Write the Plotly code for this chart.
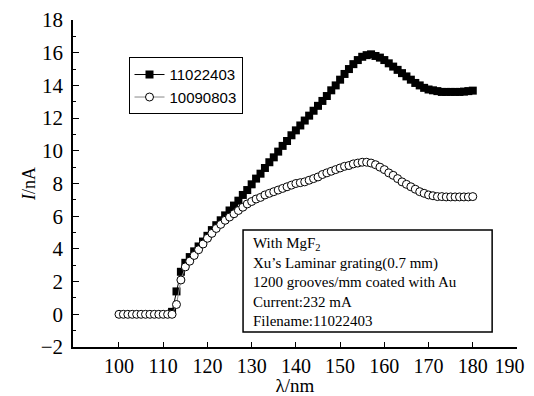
import plotly.graph_objects as go

# Series 1: 11022403 (filled squares), 112..180 nm
wl1 = list(range(112, 181))
i1 = [0.15, 1.4, 2.6, 3.15, 3.5, 3.85, 4.15, 4.45, 4.8, 5.15,
      5.45, 5.75, 6.05, 6.35, 6.65, 6.95, 7.3, 7.6, 7.95, 8.3,
      8.6, 8.95, 9.3, 9.6, 9.95, 10.3, 10.6, 10.95, 11.25, 11.55,
      11.85, 12.15, 12.45, 12.75, 13.05, 13.35, 13.7, 14.0, 14.35, 14.7,
      15.0, 15.3, 15.55, 15.75, 15.85, 15.9, 15.8, 15.7, 15.55, 15.35,
      15.15, 14.95, 14.75, 14.55, 14.35, 14.15, 14.0, 13.85, 13.75, 13.7,
      13.65, 13.6, 13.6, 13.6, 13.6, 13.6, 13.62, 13.65, 13.68]

# Series 2: 10090803 (open circles), 100..180 nm
wl2 = list(range(100, 181))
i2 = [0, 0, 0, 0, 0, 0, 0, 0, 0, 0, 0, 0, 0,
      0.6, 2.1, 2.9, 3.25, 3.6, 3.95, 4.3, 4.65, 4.95, 5.25,
      5.5, 5.75, 5.95, 6.15, 6.35, 6.55, 6.75, 6.9, 7.05, 7.15,
      7.3, 7.4, 7.5, 7.6, 7.7, 7.8, 7.9, 8.0, 8.05, 8.1,
      8.2, 8.3, 8.4, 8.55, 8.65, 8.75, 8.85, 8.95, 9.05, 9.1,
      9.2, 9.25, 9.3, 9.3, 9.25, 9.15, 9.0, 8.85, 8.65, 8.5,
      8.3, 8.1, 7.95, 7.8, 7.65, 7.5, 7.4, 7.3, 7.25, 7.2,
      7.2, 7.18, 7.18, 7.18, 7.18, 7.18, 7.18, 7.2]

names = ["11022403", "10090803"]
xticks = [100, 110, 120, 130, 140, 150, 160, 170, 180, 190]
xticklabels = ["100", "110", "120", "130", "140", "150", "160", "170", "180",
               "190\u00a0\u00a0\u00a0"]
yticks = [-2, 0, 2, 4, 6, 8, 10, 12, 14, 16, 18]
info_lines = ["With MgF<sub>2</sub>",
              "Xu’s Laminar grating(0.7 mm)",
              "1200 grooves/mm coated with Au",
              "Current:232 mA",
              "Filename:11022403"]

fig = go.Figure()
fig.add_trace(go.Scatter(
    x=wl1, y=i1, name=names[0], mode="lines+markers",
    line=dict(color="black", width=1),
    marker=dict(symbol="square", size=8, color="black")))
fig.add_trace(go.Scatter(
    x=wl2, y=i2, name=names[1], mode="lines+markers",
    line=dict(color="#888888", width=1),
    marker=dict(symbol="circle", size=8, color="white",
                line=dict(color="black", width=1))))

serif = "Liberation Serif"
fig.update_layout(
    width=526, height=388,
    margin=dict(l=65, r=17, t=12, b=49, autoexpand=False),
    paper_bgcolor="white", plot_bgcolor="white",
    font=dict(family=serif, color="black"),
    showlegend=True,
    legend=dict(x=0.125, y=0.886, xanchor="left", yanchor="top",
                bordercolor="black", borderwidth=1, bgcolor="white",
                font=dict(family="Liberation Sans", size=15, color="black"),
                tracegroupgap=0, itemwidth=30),
    xaxis=dict(range=[89.6, 190], tickvals=xticks, ticktext=xticklabels,
               automargin=False, ticklabeloverflow="allow",
               showline=True, linecolor="black", linewidth=1.5,
               ticks="inside", ticklen=5, tickcolor="black", tickwidth=1,
               showgrid=False, zeroline=False,
               tickfont=dict(family=serif, size=20),
               title=dict(text="λ/nm", font=dict(family=serif, size=19), standoff=2)),
    yaxis=dict(range=[-2, 18], tickvals=yticks,
               automargin=False, ticklabeloverflow="allow",
               showline=True, linecolor="black", linewidth=1.5,
               ticks="inside", ticklen=6, tickcolor="black", tickwidth=1,
               minor=dict(dtick=1, ticks="inside", ticklen=3, tickcolor="black", showgrid=False),
               showgrid=False, zeroline=False,
               ticklabelstandoff=4,
               tickfont=dict(family=serif, size=21),
               title=dict(text="<i>I</i>/nA", font=dict(family=serif, size=18), standoff=0)),
)

fig.add_shape(type="rect", xref="paper", yref="paper",
              x0=0.383, x1=0.944, y0=0.046, y1=0.358,
              line=dict(color="black", width=1.5), fillcolor="white", layer="above")
fig.add_annotation(xref="paper", yref="paper", x=0.401, y=0.349,
                   xanchor="left", yanchor="top", align="left", showarrow=False,
                   text="<br>".join(info_lines),
                   font=dict(family=serif, size=15, color="black"))

fig.write_html("out.html")
